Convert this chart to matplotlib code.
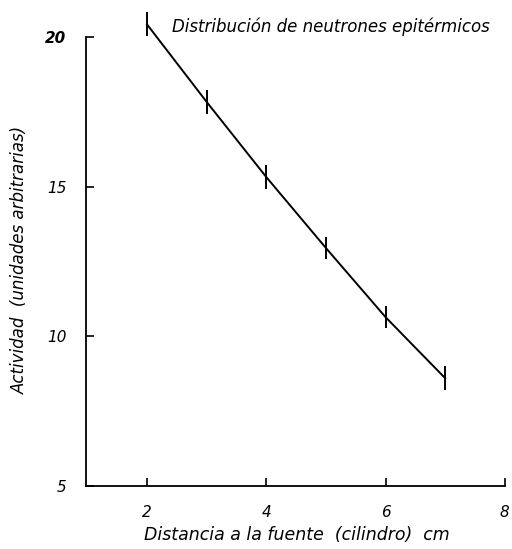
import matplotlib
matplotlib.use("Agg")
import matplotlib.pyplot as plt

# distance to source (cm) and measured activity (arbitrary units)
distancia = [2, 3, 4, 5, 6, 7]
actividad = [20.42, 17.83, 15.32, 12.95, 10.64, 8.6]
error = [0.4, 0.39, 0.39, 0.37, 0.37, 0.4]

x_ticks = [2, 4, 6, 8]
y_ticks = [5, 10, 15, 20]

plt.rcParams["font.family"] = ["DejaVu Sans"]

fig = plt.figure(figsize=(5.12, 5.49), dpi=100)
ax = fig.add_axes([0.168, 0.1148, 0.818, 0.8725])

ax.plot(distancia, actividad, "-", color="black", lw=1.4)
ax.errorbar(distancia, actividad, yerr=error, fmt="none", ecolor="black",
            elinewidth=1.4, capsize=0)

ax.set_xlim(0.978, 8.0)
ax.set_ylim(5, 21)
ax.spines["top"].set_visible(False)
ax.spines["right"].set_visible(False)
ax.spines["left"].set_bounds(5, 20)
ax.spines["left"].set_linewidth(1.3)
ax.spines["bottom"].set_linewidth(1.3)

ax.set_xticks(x_ticks)
ax.set_yticks(y_ticks)
ax.tick_params(direction="in", length=6, width=1.2)
ax.tick_params(axis="x", pad=14)
ax.tick_params(axis="y", pad=14)
for lbl in ax.get_xticklabels() + ax.get_yticklabels():
    lbl.set_fontstyle("italic")
    lbl.set_fontsize(11)
ax.get_yticklabels()[-1].set_fontweight("bold")

ax.set_xlabel("Distancia a la fuente  (cilindro)  cm", fontsize=12.5, style="italic",
              va="center")
ax.set_ylabel("Actividad  (unidades arbitrarias)", fontsize=12, style="italic",
              va="center")
ax.xaxis.set_label_coords(0.504, -0.102)
ax.yaxis.set_label_coords(-0.157, 0.472)

ax.text(0.205, 0.958, "Distribución de neutrones epitérmicos", transform=ax.transAxes,
        fontsize=12, style="italic", ha="left", va="center")

fig.savefig("out.png", dpi=100)
